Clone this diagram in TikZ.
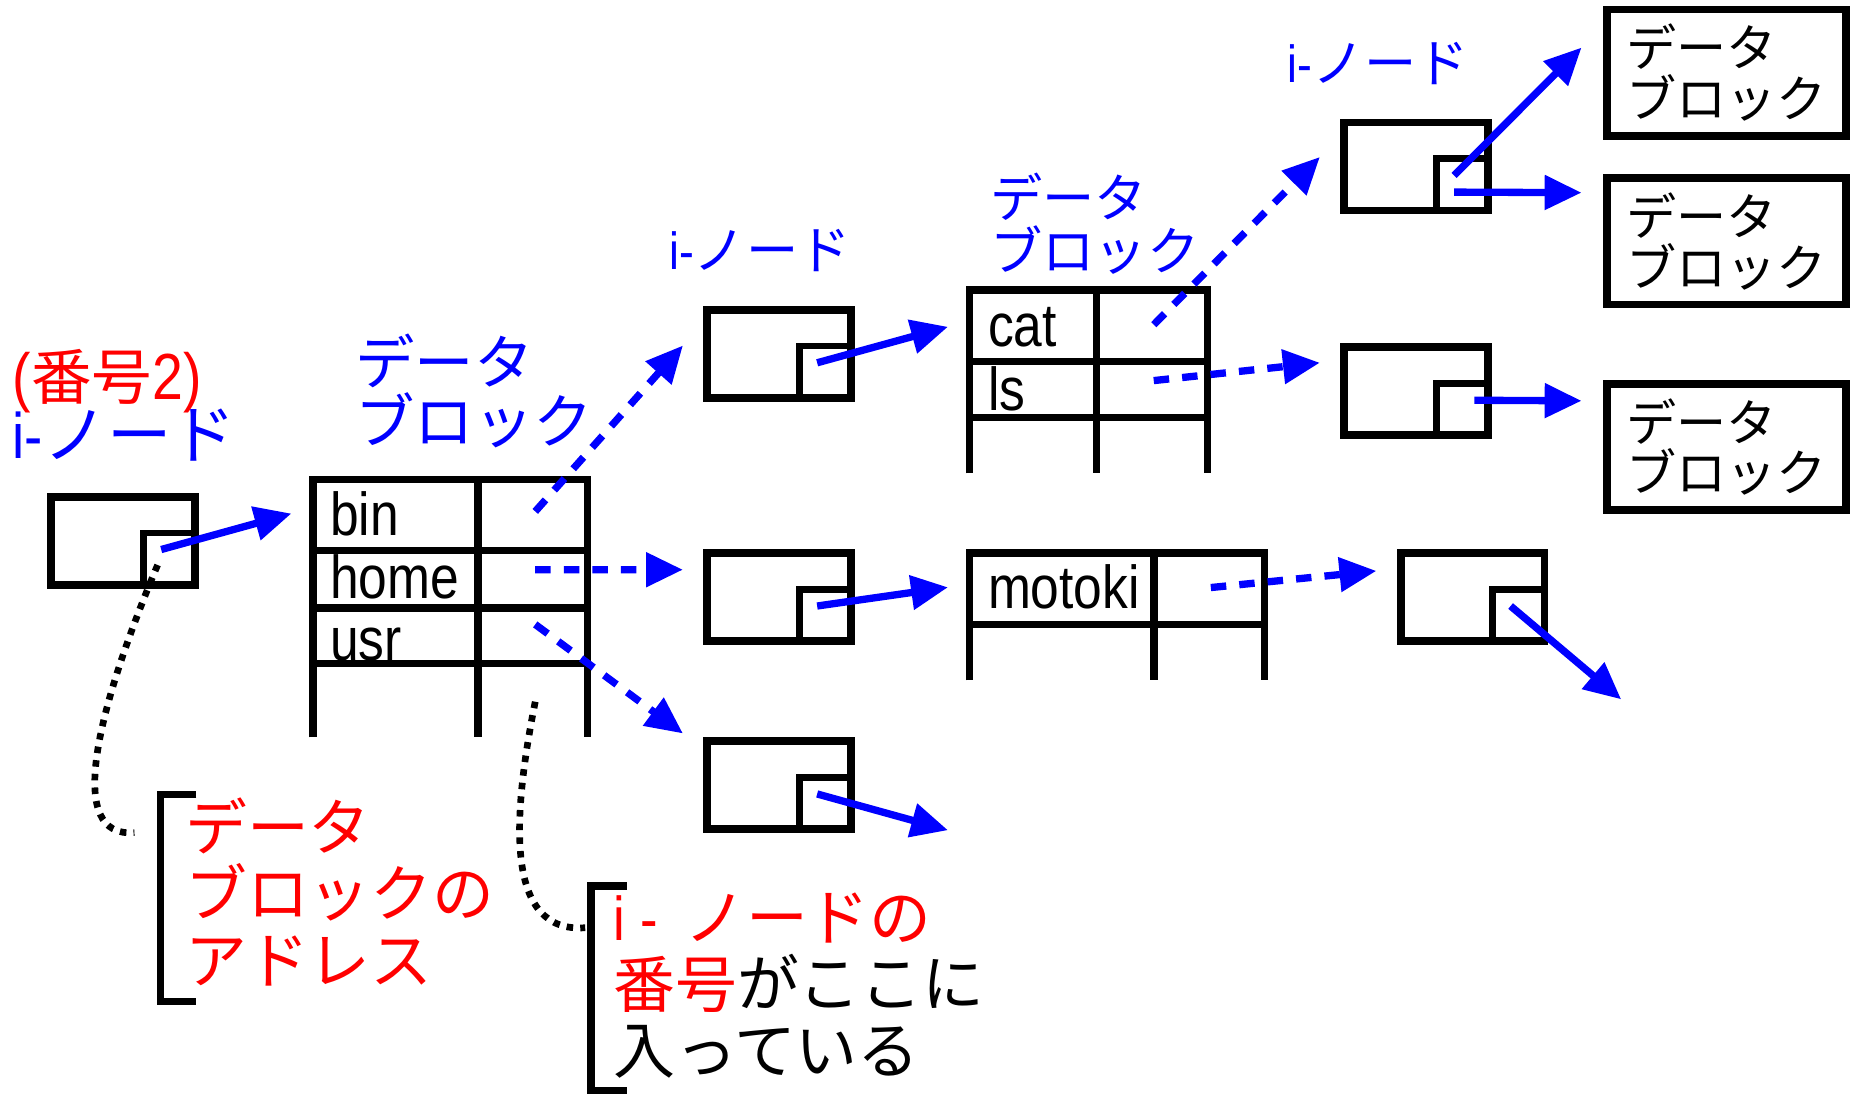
\documentclass[tikz,border=0pt]{standalone}
\usepackage{fontspec}
\setmainfont[FakeStretch=0.85]{Liberation Sans}
\newfontfamily\jp{Noto Sans CJK JP}
\usetikzlibrary{arrows.meta}
\tikzset{
  inode/.style={draw, line width=1.9pt, minimum width=1.21cm, minimum height=0.74cm, inner sep=0pt},
  islot/.style={draw, line width=1.6pt, minimum size=0.44cm, inner sep=0pt, anchor=south east},
  dblock/.style={draw, line width=1.9pt, minimum width=2.01cm, minimum height=1.06cm, inner sep=0pt,
                 align=left, font=\jp\fontsize{12}{12}\selectfont},
  tbl/.style={line width=1.8pt},
  fname/.style={anchor=base west, inner sep=0pt, font=\fontsize{14.5}{15}\selectfont},
  lbl/.style={anchor=north west, inner sep=0pt, align=left, blue, font=\jp\fontsize{14.2}{14.2}\selectfont},
  lbls/.style={lbl, font=\jp\fontsize{12.5}{12.5}\selectfont},
  memo/.style={anchor=north west, inner sep=0pt, align=left, red, font=\jp\fontsize{14.8}{15.9}\selectfont},
  ptr/.style={->, blue, line width=1.75pt},
  dptr/.style={ptr, dash pattern=on 0.13cm off 0.11cm},
  memoline/.style={line width=1.6pt, dash pattern=on 0.055cm off 0.06cm},
  brk/.style={line width=1.8pt}
}

\begin{document}
\begin{tikzpicture}[>={Triangle[length=0.31cm,width=0.28cm]}]
\useasboundingbox (0,0) rectangle (15.68,-9.28);

% i-nodes: outer box with the address slot in its lower right corner
\foreach \n/\x/\y in {n0/1.035/-4.545, m1/6.55/-2.975, m2/6.55/-5.02, m3/6.55/-6.60,
                      r1/11.905/-1.40, r2/11.905/-3.29, r3/12.38/-5.02} {
  \node[inode] (\n) at (\x,\y) {};
  \node[islot] (\n-s) at (\n.south east) {};
  \coordinate (\n-p) at ([xshift=-0.07cm,yshift=0.08cm]\n-s.center);
}

% data blocks at the leaves
\node[dblock] (db1) at (14.515,-0.61) {データ\\ブロック};
\node[dblock] (db2) at (14.515,-2.03) {データ\\ブロック};
\node[dblock] (db3) at (14.515,-3.76) {データ\\ブロック};

% root directory block
\draw[tbl] (2.63,-6.20) -- (2.63,-4.03) -- (4.94,-4.03) -- (4.94,-6.20);
\draw[tbl] (4.02,-4.03) -- (4.02,-6.20);
\foreach \y in {-4.63,-5.11,-5.58} \draw[tbl] (2.63,\y) -- (4.94,\y);
\node[fname] (bin) at (2.77,-4.50) {bin};
\node[fname] (home) at (2.77,-5.03) {home};
\node[fname] (usr) at (2.77,-5.55) {usr};
\coordinate (bin-p) at (4.50,-4.30);
\coordinate (home-p) at (4.50,-4.79);
\coordinate (usr-p) at (4.50,-5.25);

% /bin block
\draw[tbl] (8.15,-3.98) -- (8.15,-2.44) -- (10.15,-2.44) -- (10.15,-3.98);
\draw[tbl] (9.22,-2.44) -- (9.22,-3.98);
\foreach \y in {-3.04,-3.51} \draw[tbl] (8.15,\y) -- (10.15,\y);
\node[fname] (cat) at (8.30,-2.91) {cat};
\node[fname] (ls) at (8.30,-3.45) {ls};
\coordinate (cat-p) at (9.70,-2.73);
\coordinate (ls-p) at (9.70,-3.20);

% /home block
\draw[tbl] (8.15,-5.72) -- (8.15,-4.65) -- (10.63,-4.65) -- (10.63,-5.72);
\draw[tbl] (9.70,-4.65) -- (9.70,-5.72);
\draw[tbl] (8.15,-5.25) -- (10.63,-5.25);
\node[fname] (motoki) at (8.30,-5.12) {motoki};
\coordinate (motoki-p) at (10.18,-4.94);

% labels
\node[lbl, red, font=\jp\fontsize{14.5}{14.5}\selectfont] (num) at (0.10,-2.93) {{\rmfamily\fontsize{15.6}{15.6}\selectfont(}番号{\rmfamily\fontsize{15.6}{15.6}\selectfont 2)}};
\node[lbl, font=\jp\fontsize{15.4}{15.4}\selectfont] (n0-lbl) at (0.10,-3.43) {{\rmfamily i-}ノード};
\node[lbl] (root-lbl) at (2.98,-2.80) {データ\\ブロック};
\node[lbls] (m1-lbl) at (5.62,-1.92) {{\rmfamily i-}ノード};
\node[lbls] (bin-lbl) at (8.32,-1.45) {データ\\ブロック};
\node[lbls] (r1-lbl) at (10.82,-0.35) {{\rmfamily i-}ノード};

% block addresses held by the i-nodes
\draw[ptr] (n0-p) -- ([xshift=-0.32cm]bin.west);
\draw[ptr] (m1-p) -- ([xshift=-0.33cm]cat.west);
\draw[ptr] (m2-p) -- ([xshift=-0.33cm]motoki.west);
\coordinate (m3-end) at (7.97,-6.98);
\draw[ptr] (m3-p) -- (m3-end);
\draw[ptr] (r1-p) -- ([xshift=-0.18cm,yshift=0.21cm]db1.west);
\draw[ptr] ([yshift=-0.14cm]r1-p) -- ([xshift=-0.18cm,yshift=0.41cm]db2.west);
\draw[ptr] ([xshift=0.17cm]r2-p) -- ([xshift=-0.18cm,yshift=0.39cm]db3.west);
\coordinate (r3-end) at (13.63,-5.88);
\draw[ptr] (r3-p) -- (r3-end);

% i-node numbers held by the directory entries
\draw[dptr] (bin-p) -- ([xshift=-0.17cm,yshift=0.07cm]m1.west);
\draw[dptr] (home-p) -- ([xshift=-0.17cm,yshift=0.23cm]m2.west);
\draw[dptr] (usr-p) -- ([xshift=-0.17cm,yshift=0.03cm]m3.north west);
\draw[dptr] (cat-p) -- ([xshift=-0.17cm,yshift=0.08cm]r1.west);
\draw[dptr] (ls-p) -- ([xshift=-0.17cm,yshift=0.24cm]r2.west);
\draw[dptr] (motoki-p) -- ([xshift=-0.17cm,yshift=0.22cm]r3.west);

% notes
\draw[brk] (1.65,-6.68) -- (1.35,-6.68) -- (1.35,-8.42) -- (1.65,-8.42);
\node[memo] (addr) at (1.55,-6.70) {データ\\ブロックの\\アドレス};
\coordinate (addr-end) at (1.13,-7.00);
\draw[memoline] ([xshift=-0.1cm,yshift=-0.05cm]n0-s.center) .. controls (0.8,-6.0) and (0.55,-7.05) .. (addr-end);

\draw[brk] (5.27,-7.45) -- (4.97,-7.45) -- (4.97,-9.17) -- (5.27,-9.17);
\node[memo] (numnote) at (5.15,-7.50) {{\rmfamily i\hspace{0.13cm}-\hspace{0.22cm}}ノードの\\番号\textcolor{black}{がここに}\\\textcolor{black}{入っている}};
\coordinate (num-start) at (4.50,-5.90);
\coordinate (num-end) at (4.92,-7.80);
\draw[memoline] (num-start) .. controls (4.30,-6.9) and (4.25,-7.85) .. (num-end);
\end{tikzpicture}
\end{document}
